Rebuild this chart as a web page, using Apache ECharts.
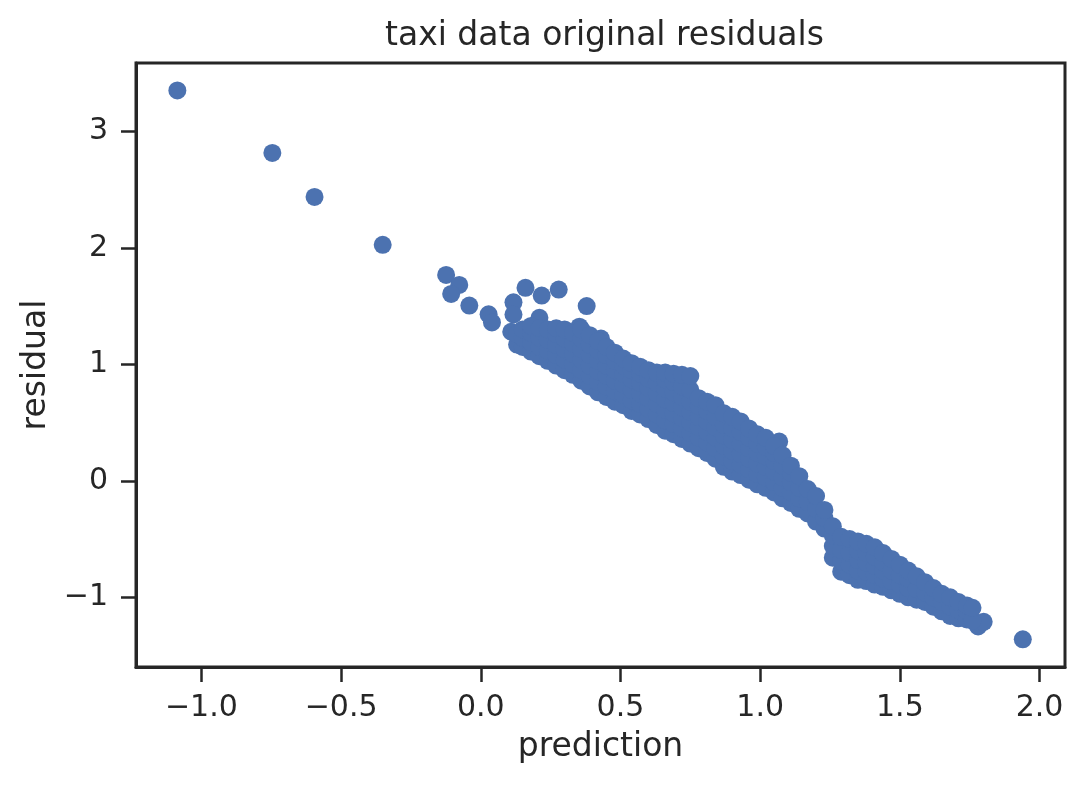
<!DOCTYPE html>
<html>
<head>
<meta charset="utf-8">
<script src="https://cdn.jsdelivr.net/npm/echarts@6/dist/echarts.min.js"></script>
<style>
html,body{margin:0;padding:0;background:#fff;}
#chart{width:1085px;height:786px;}
</style>
</head>
<body>
<div id="chart"></div>
<script>
// Isolated points (prediction, residual)
const outlierPrediction = [-1.086, -0.746, -0.595, -0.351, -0.124, -0.077, -0.106, -0.041, 0.028, 0.040, 0.117, 0.117, 0.109, 0.160, 0.218, 0.279, 0.379, 0.210, 0.353, 0.430, 1.068, 1.78, 1.80, 1.94];
const outlierResidual   = [3.352, 2.815, 2.437, 2.026, 1.768, 1.682, 1.605, 1.505, 1.430, 1.360, 1.533, 1.428, 1.280, 1.657, 1.591, 1.642, 1.500, 1.400, 1.323, 1.222, 0.337, -1.25, -1.21, -1.36];

// Dense band: prediction columns and residuals observed in each column
const bandPrediction = [0.13, 0.15, 0.18, 0.21, 0.24, 0.27, 0.30, 0.33, 0.36, 0.39, 0.42, 0.45, 0.48, 0.51, 0.54, 0.57, 0.60, 0.63, 0.66, 0.69, 0.72, 0.75, 0.78, 0.81, 0.84, 0.87, 0.90, 0.93, 0.96, 0.99, 1.02, 1.05, 1.08, 1.11, 1.14, 1.17, 1.20, 1.23, 1.26, 1.29, 1.32, 1.35, 1.38, 1.41, 1.44, 1.47, 1.50, 1.53, 1.56, 1.59, 1.62, 1.65, 1.68, 1.71, 1.74, 1.76];
const bandResidual = [
  [1.17, 1.26],
  [1.15, 1.23, 1.30],
  [1.11, 1.19, 1.27, 1.33],
  [1.07, 1.15, 1.23, 1.31],
  [1.03, 1.12, 1.21, 1.30],
  [0.99, 1.08, 1.17, 1.26, 1.31],
  [0.95, 1.04, 1.13, 1.22, 1.30],
  [0.91, 1.00, 1.09, 1.18, 1.27],
  [0.86, 0.95, 1.04, 1.13, 1.22, 1.30],
  [0.81, 0.90, 0.99, 1.08, 1.17, 1.25],
  [0.76, 0.85, 0.94, 1.03, 1.12, 1.20],
  [0.72, 0.81, 0.90, 0.99, 1.08, 1.15],
  [0.68, 0.77, 0.86, 0.95, 1.03, 1.10],
  [0.65, 0.74, 0.83, 0.92, 0.99, 1.05],
  [0.60, 0.69, 0.78, 0.87, 0.95, 1.01],
  [0.57, 0.66, 0.75, 0.84, 0.92, 0.98],
  [0.53, 0.62, 0.71, 0.80, 0.88, 0.95],
  [0.48, 0.57, 0.66, 0.75, 0.84, 0.93],
  [0.43, 0.52, 0.61, 0.70, 0.79, 0.87, 0.93],
  [0.40, 0.49, 0.58, 0.67, 0.76, 0.85, 0.92],
  [0.36, 0.45, 0.54, 0.63, 0.72, 0.81, 0.91],
  [0.32, 0.41, 0.50, 0.59, 0.68, 0.78, 0.90],
  [0.28, 0.37, 0.46, 0.55, 0.64, 0.71],
  [0.24, 0.33, 0.42, 0.51, 0.60, 0.68],
  [0.19, 0.28, 0.37, 0.46, 0.55, 0.65],
  [0.12, 0.21, 0.30, 0.39, 0.48, 0.58],
  [0.08, 0.17, 0.26, 0.35, 0.45, 0.55],
  [0.05, 0.14, 0.23, 0.32, 0.42, 0.51],
  [0.01, 0.10, 0.19, 0.28, 0.37, 0.45],
  [-0.03, 0.06, 0.15, 0.24, 0.32, 0.40],
  [-0.06, 0.03, 0.12, 0.21, 0.29, 0.37],
  [-0.10, -0.01, 0.08, 0.17, 0.24, 0.30],
  [-0.15, -0.06, 0.03, 0.13, 0.22],
  [-0.19, -0.10, -0.01, 0.07, 0.13],
  [-0.24, -0.15, -0.06, 0.04],
  [-0.28, -0.18, -0.07],
  [-0.35, -0.24, -0.13],
  [-0.41, -0.32, -0.25],
  [-0.66, -0.56, -0.47, -0.39],
  [-0.78, -0.69, -0.59, -0.48],
  [-0.81, -0.72, -0.62, -0.50],
  [-0.85, -0.77, -0.68, -0.60, -0.52],
  [-0.86, -0.78, -0.70, -0.62, -0.54],
  [-0.89, -0.81, -0.73, -0.65, -0.57],
  [-0.91, -0.84, -0.77, -0.70, -0.62],
  [-0.94, -0.86, -0.77, -0.67],
  [-0.97, -0.89, -0.81, -0.72],
  [-1.00, -0.92, -0.84, -0.77],
  [-1.02, -0.93, -0.82],
  [-1.04, -0.96, -0.87],
  [-1.08, -1.00, -0.92],
  [-1.12, -1.04, -0.97],
  [-1.16, -1.08, -1.00],
  [-1.18, -1.11, -1.04],
  [-1.19, -1.12, -1.07],
  [-1.20, -1.09]
];

const xTicks = [-1.0, -0.5, 0.0, 0.5, 1.0, 1.5, 2.0];
const yTicks = [-1, 0, 1, 2, 3];

const points = [];
outlierPrediction.forEach((p, i) => points.push([p, outlierResidual[i]]));
bandPrediction.forEach((p, i) => bandResidual[i].forEach(r => points.push([p, r])));

const ink = '#262626';
const fontFamily = 'DejaVu Sans';
const minus = s => s.replace('-', '\u2212');

const chart = echarts.init(document.getElementById('chart'), null, {renderer: 'canvas'});
chart.setOption({
  animation: false,
  backgroundColor: '#ffffff',
  title: {
    text: 'taxi data original residuals',
    left: 380,
    top: 15,
    textStyle: {color: ink, fontFamily: fontFamily, fontSize: 33, fontWeight: 'normal'}
  },
  grid: {left: 136, right: 20, top: 63, bottom: 119, show: true, borderColor: ink, borderWidth: 3},
  xAxis: {
    type: 'value',
    min: -1.234,
    max: 2.091,
    name: 'prediction',
    nameLocation: 'middle',
    nameGap: 64,
    nameTextStyle: {color: ink, fontFamily: fontFamily, fontSize: 33},
    axisLine: {show: true, onZero: false, lineStyle: {color: ink, width: 3}},
    axisTick: {show: true, length: 15, lineStyle: {color: ink, width: 2.5}, customValues: xTicks},
    axisLabel: {color: ink, fontFamily: fontFamily, fontSize: 30, margin: 26, customValues: xTicks,
      formatter: v => minus(Number(v).toFixed(1))},
    splitLine: {show: false}
  },
  yAxis: {
    type: 'value',
    min: -1.598,
    max: 3.587,
    name: 'residual',
    nameLocation: 'middle',
    nameGap: 79,
    nameTextStyle: {color: ink, fontFamily: fontFamily, fontSize: 33},
    axisLine: {show: true, onZero: false, lineStyle: {color: ink, width: 3}},
    axisTick: {show: true, length: 15, lineStyle: {color: ink, width: 2.5}, customValues: yTicks},
    axisLabel: {color: ink, fontFamily: fontFamily, fontSize: 30, margin: 28, customValues: yTicks,
      formatter: v => minus(String(Math.round(v)))},
    splitLine: {show: false}
  },
  series: [{
    type: 'scatter',
    data: points,
    symbol: 'circle',
    symbolSize: 18,
    itemStyle: {color: '#4c72b0', opacity: 1},
    emphasis: {disabled: true}
  }]
});
</script>
</body>
</html>
